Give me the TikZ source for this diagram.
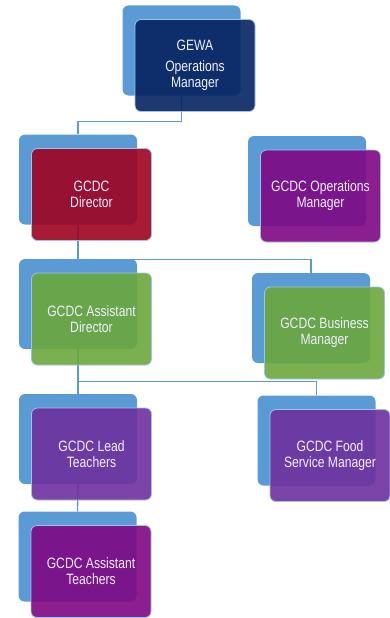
\documentclass[tikz,border=0pt]{standalone}
\usepackage{fontspec}
\setmainfont{Liberation Sans}[FakeStretch=0.81]
\usetikzlibrary{positioning,backgrounds}
\definecolor{tileblue}{RGB}{91,155,213}
\definecolor{edgeblue}{RGB}{157,195,230}
\definecolor{gewanavy}{RGB}{6,34,96}
\definecolor{dirred}{RGB}{158,2,33}
\definecolor{opsplum}{RGB}{126,7,132}
\definecolor{leafgreen}{RGB}{107,167,60}
\definecolor{leadviolet}{RGB}{110,48,158}

\begin{document}
\begin{tikzpicture}[x=1pt,y=1pt,
  back/.style={rounded corners=6pt,fill=tileblue,minimum width=118pt,minimum height=90pt},
  card/.style={rounded corners=6pt,draw=edgeblue,line width=0.8pt,fill opacity=0.9,text opacity=1,text=white!94!blue,
    minimum width=120pt,minimum height=92pt,align=center,font=\fontsize{15}{16}\selectfont},
  link/.style={draw=tileblue,line width=1.3pt}]
\useasboundingbox (0,0) rectangle (390,-618);
% blue tiles behind each card
\node[back] (gewab) at (181.5,-50.5) {};
\node[back] (dirb) at (78,-179.5) {};
\node[back] (opsb) at (307,-181) {};
\node[back] (asstb) at (78,-304) {};
\node[back] (busb) at (311,-318) {};
\node[back] (leadb) at (78,-439) {};
\node[back] (fsmb) at (316.5,-440.5) {};
\node[back] (atb) at (77.5,-556.5) {};
% cards
\node[card,fill=gewanavy] (gewa) at ([shift={(13.5,-15)}]gewab) {GEWA\\[5pt]Operations\\Manager};
\node[card,fill=dirred] (dir) at ([shift={(13.5,-15)}]dirb) {GCDC\\Director};
\node[card,fill=opsplum] (ops) at ([shift={(13.5,-15)}]opsb) {GCDC Operations\\Manager};
\node[card,fill=leafgreen] (asst) at ([shift={(13.5,-15)}]asstb) {GCDC Assistant\\Director};
\node[card,fill=leafgreen] (bus) at ([shift={(13.5,-15)}]busb) {GCDC Business\\Manager};
\node[card,fill=leadviolet] (lead) at ([shift={(13.5,-15)}]leadb) {GCDC Lead\\Teachers};
\node[card,fill=leadviolet] (fsm) at ([shift={(13.5,-15)}]fsmb) {GCDC Food\\Service Manager};
\node[card,fill=opsplum] (at) at ([shift={(13.5,-15)}]atb) {GCDC Assistant\\Teachers};
% reporting lines
\begin{scope}[on background layer]
\draw[link] (gewab.south) -- ++(0,-26) -| (dirb.north);
\foreach \a/\b in {dirb/asstb,asstb/leadb,leadb/atb} \draw[link] (\a.south) -- (\b.north);
\draw[link] ([yshift=-1pt]asstb.north) -| (busb.north);
\draw[link] ([yshift=-32pt]asstb.south) -| (fsmb.north);
\end{scope}
\end{tikzpicture}
\end{document}
